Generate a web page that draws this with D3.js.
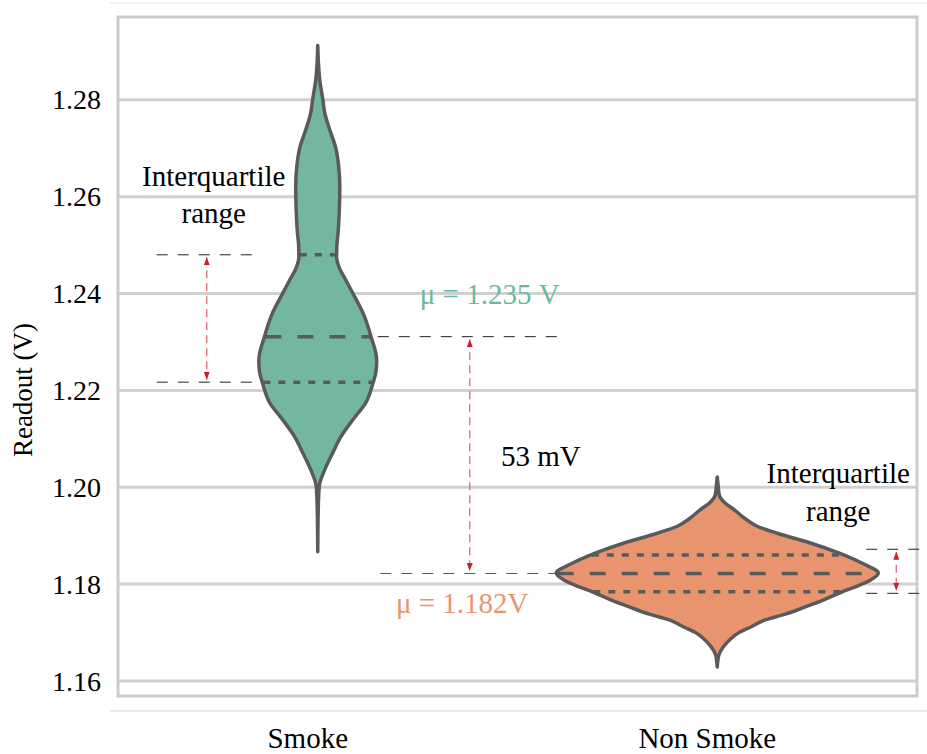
<!DOCTYPE html>
<html>
<head>
<meta charset="utf-8">
<script src="https://cdn.jsdelivr.net/npm/d3@7"></script>
<style>
body { margin: 0; background: #fff; }
svg, svg text { font-family: "Liberation Serif", "Times New Roman", serif; }
</style>
</head>
<body>
<svg id="chart" width="927" height="754"></svg>
<script>
// categories and tick labels
var categories = ["Smoke", "Non Smoke"];
var yTicks = [1.16, 1.18, 1.20, 1.22, 1.24, 1.26, 1.28];

// KDE profiles (value in V, relative density)
var smokeValues = [1.2912, 1.2883, 1.2841, 1.2802, 1.2773, 1.2738, 1.2703, 1.2666, 1.2620, 1.2573,
    1.2525, 1.2501, 1.2476, 1.2453, 1.2428, 1.2401, 1.2356, 1.2311, 1.2263, 1.2242,
    1.2214, 1.2174, 1.2139, 1.2104, 1.2071, 1.2036, 1.2001, 1.1953, 1.1867];
var smokeDensity = [0, 0.31, 1.24, 3.1, 4.35, 7.45, 11.0, 12.9, 13.7, 13.4,
    12.6, 11.9, 11.7, 13.4, 17.4, 21.7, 28.6, 33.1, 36.6, 36.3,
    34.2, 29.8, 21.7, 14.3, 9.3, 4.3, 0.9, 0.3, 0];
var nonSmokeValues = [1.2021, 1.2005, 1.1984, 1.1967, 1.1953, 1.1936, 1.1920, 1.1905, 1.1885, 1.1864,
    1.1843, 1.1823, 1.1808, 1.1796, 1.1784, 1.1767, 1.1753, 1.1738, 1.1726, 1.1711,
    1.1699, 1.1684, 1.1670, 1.1653, 1.1629];
var nonSmokeDensity = [0, 0.5, 1.24, 5.0, 10.8, 17.0, 24.5, 37.3, 57.8, 75.8,
    90.1, 100, 95.0, 87.0, 77.6, 65.8, 54.7, 42.2, 29.8, 20.5,
    13.0, 7.45, 3.7, 0.93, 0];

// quartiles [q1, median, q3]
var quartiles = [[1.2217, 1.2311, 1.2480], [1.1784, 1.1822, 1.1860]];
var means = ["μ = 1.235 V", "μ = 1.182V"];
var rightIqr = [1.1781, 1.1872];
var fills = ["#73b6a1", "#e8956f"];
var textColors = ["#6db8a0", "#e8956f"];

var svg = d3.select("#chart");
var outline = "#5a5a5a";

var x = d3.scaleBand().domain(categories).range([118, 917]).padding(0);
var y = d3.scaleLinear().domain([1.1569, 1.2971]).range([696, 17]);
var w = d3.scaleLinear().domain([0, 100]).range([0, 161]);

// faint figure lines
svg.append("line").attr("x1", 110).attr("x2", 927).attr("y1", 3).attr("y2", 3)
    .style("stroke", "#ebebeb").style("stroke-width", 1.5);
svg.append("line").attr("x1", 110).attr("x2", 927).attr("y1", 711).attr("y2", 711)
    .style("stroke", "#e0e0e0").style("stroke-width", 1.5);

// grid
svg.append("g").attr("class", "grid")
    .selectAll("line")
    .data(yTicks)
    .enter().append("line")
    .attr("x1", 118).attr("x2", 917)
    .attr("y1", function(d) { return y(d); })
    .attr("y2", function(d) { return y(d); })
    .style("stroke", "#d0d0d0").style("stroke-width", 3);

// frame
svg.append("rect").attr("x", 118).attr("y", 17).attr("width", 799).attr("height", 679)
    .style("fill", "none").style("stroke", "#cccccc").style("stroke-width", 3);

// tick labels
svg.append("g").selectAll("text")
    .data(yTicks)
    .enter().append("text")
    .attr("x", 101)
    .attr("y", function(d) { return y(d); })
    .attr("dy", "0.34em")
    .attr("text-anchor", "end")
    .style("font-size", "28px")
    .text(function(d) { return d3.format(".2f")(d); });

svg.append("text")
    .attr("transform", "translate(32,390) rotate(-90)")
    .attr("text-anchor", "middle")
    .style("font-size", "27px")
    .text("Readout (V)");

svg.append("g").selectAll("text")
    .data(categories)
    .enter().append("text")
    .attr("x", function(d) { return x(d) + x.bandwidth() / 2 - 10; })
    .attr("y", 748)
    .attr("text-anchor", "middle")
    .style("font-size", "29px")
    .text(function(d) { return d; });

// violins
var profiles = [
    smokeValues.map(function(v, i) { return {v: v, d: smokeDensity[i]}; }),
    nonSmokeValues.map(function(v, i) { return {v: v, d: nonSmokeDensity[i]}; })
];

categories.forEach(function(cat, i) {
    var cx = x(cat) + x.bandwidth() / 2;
    var area = d3.area()
        .y(function(d) { return y(d.v); })
        .x0(function(d) { return cx - w(d.d); })
        .x1(function(d) { return cx + w(d.d); })
        .curve(d3.curveMonotoneY);
    svg.append("path")
        .datum(profiles[i].slice().reverse())
        .attr("d", area)
        .style("fill", fills[i])
        .style("stroke", outline)
        .style("stroke-width", 3.5)
        .style("stroke-linejoin", "round");

    var dens = d3.scaleLinear()
        .domain(profiles[i].map(function(d) { return d.v; }))
        .range(profiles[i].map(function(d) { return d.d; }));
    svg.append("g").selectAll("line")
        .data(quartiles[i])
        .enter().append("line")
        .attr("x1", function(q) { return cx - w(dens(q)) + 1; })
        .attr("x2", function(q) { return cx + w(dens(q)) - 1; })
        .attr("y1", function(q) { return y(q); })
        .attr("y2", function(q) { return y(q); })
        .style("stroke", outline)
        .style("stroke-width", 3.5)
        .style("stroke-dasharray", function(q, j) { return j == 1 ? "16,16" : "7,8"; });
});

// annotations
var defs = svg.append("defs");
defs.append("marker")
    .attr("id", "arr")
    .attr("viewBox", "0 0 8 6")
    .attr("refX", 8).attr("refY", 3)
    .attr("markerWidth", 8).attr("markerHeight", 6)
    .attr("markerUnits", "userSpaceOnUse")
    .attr("orient", "auto-start-reverse")
    .append("path").attr("d", "M0,0L8,3L0,6z").style("fill", "#c8202c");

function guide(x1, x2, v, color) {
    svg.append("line")
        .attr("x1", x1).attr("x2", x2)
        .attr("y1", y(v)).attr("y2", y(v))
        .style("stroke", color || "#222")
        .style("stroke-width", 1)
        .style("stroke-dasharray", "11,10");
}
function arrow(xp, v1, v2) {
    svg.append("line")
        .attr("x1", xp).attr("x2", xp)
        .attr("y1", y(v1) + 2.5).attr("y2", y(v2) - 2.5)
        .style("stroke", "#e06a76")
        .style("stroke-width", 1.3)
        .style("stroke-dasharray", "8,5")
        .attr("marker-start", "url(#arr)")
        .attr("marker-end", "url(#arr)");
}
function label(xp, yp, txt, color) {
    svg.append("text")
        .attr("x", xp).attr("y", yp)
        .attr("text-anchor", "middle")
        .style("font-size", "29px")
        .style("fill", color || "#000")
        .text(txt);
}

var c0 = x(categories[0]) + x.bandwidth() / 2;
var c1 = x(categories[1]) + x.bandwidth() / 2;

guide(c0 - 161, c0 - 63, quartiles[0][2]);
guide(c0 - 161, c0 - 63, quartiles[0][0]);
arrow(c0 - 111, quartiles[0][2], quartiles[0][0]);
label(c0 - 104, 186, "Interquartile");
label(c0 - 104, 223, "range");

guide(c0 + 60, c0 + 247, quartiles[0][1]);
guide(c1 - 337, c1 - 160, quartiles[1][1], "#555");
arrow(c0 + 152, quartiles[0][1], quartiles[1][1]);
label(c0 + 223, 466, "53 mV");
label(c0 + 172, 304, means[0], textColors[0]);
label(c1 - 255, 613, means[1], textColors[1]);

guide(c1 + 149, 927, rightIqr[1]);
guide(c1 + 149, 927, rightIqr[0]);
arrow(c1 + 179, rightIqr[1], rightIqr[0]);
label(c1 + 121, 483, "Interquartile");
label(c1 + 121, 521, "range");
</script>
</body>
</html>
